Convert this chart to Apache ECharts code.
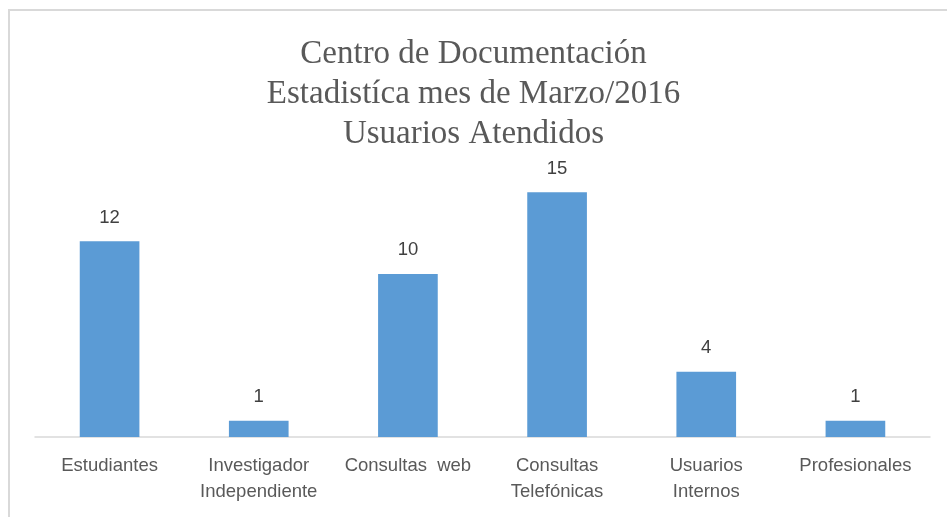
<!DOCTYPE html>
<html>
<head>
<meta charset="utf-8">
<script src="https://cdn.jsdelivr.net/npm/echarts@6/dist/echarts.min.js"></script>
<style>
  html, body { margin: 0; padding: 0; background: #fff; }
  #frame { position: absolute; left: 8px; top: 9px; width: 960px; height: 540px;
           border-top: 2px solid #d9d9d9; border-left: 2px solid #d9d9d9; }
  #chart { position: absolute; left: 0; top: 0; width: 947px; height: 517px; }
</style>
</head>
<body>
<div id="frame"></div>
<div id="chart"></div>
<script>
var categories = ['Estudiantes', 'Investigador\nIndependiente', 'Consultas  web',
                  'Consultas\nTelefónicas', 'Usuarios\nInternos', 'Profesionales'];
var values = [12, 1, 10, 15, 4, 1];
var titleText = 'Centro de Documentación\nEstadistíca mes de Marzo/2016\nUsuarios Atendidos';

var myChart = echarts.init(document.getElementById('chart'));

var option = {
  animation: false,
  title: {
    text: titleText,
    left: 'center',
    top: 29,
    textStyle: {
      fontFamily: 'Liberation Serif',
      fontWeight: 'normal',
      fontSize: 33,
      lineHeight: 40,
      color: '#595959'
    }
  },
  grid: {
    left: 35,
    right: 17,
    top: 176,
    bottom: 80
  },
  xAxis: {
    type: 'category',
    data: categories,
    axisTick: { show: false },
    axisLine: { lineStyle: { color: '#d9d9d9', width: 1.5 } },
    axisLabel: {
      interval: 0,
      margin: 16,
      fontFamily: 'Liberation Sans',
      fontSize: 18.5,
      lineHeight: 26,
      color: '#595959'
    }
  },
  yAxis: {
    type: 'value',
    min: 0,
    max: 16,
    show: false
  },
  series: [
    {
      type: 'bar',
      data: values,
      barWidth: '40%',
      itemStyle: { color: '#5b9bd5' },
      label: {
        show: true,
        position: 'top',
        distance: 14,
        fontFamily: 'Liberation Sans',
        fontSize: 18.5,
        color: '#404040'
      }
    }
  ]
};

myChart.setOption(option);
</script>
</body>
</html>
